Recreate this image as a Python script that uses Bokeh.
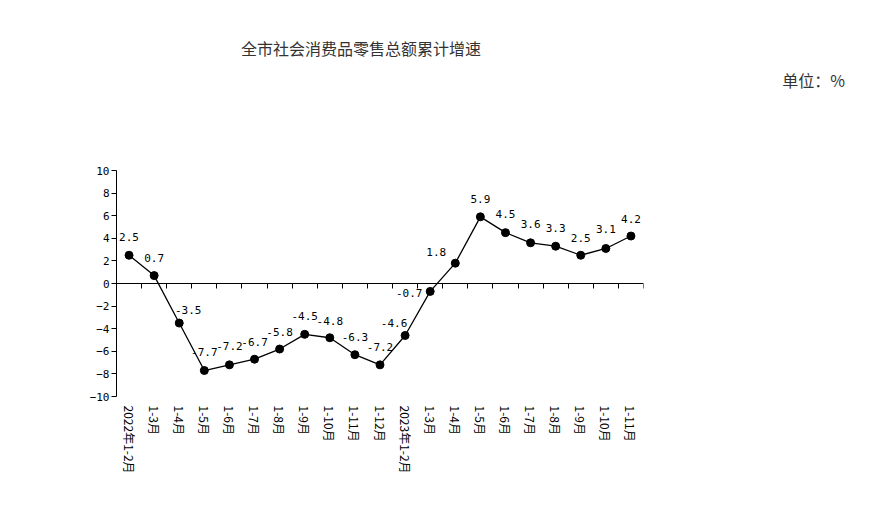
from bokeh.plotting import figure
from bokeh.models import ColumnDataSource, Range1d, FixedTicker, LinearAxis, Div
from bokeh.layouts import column
from bokeh.core.properties import value
from bokeh.embed import file_html
from bokeh.resources import INLINE

title_text = "全市社会消费品零售总额累计增速"
unit_text = "单位：%"
categories = ["2022年1-2月", "1-3月", "1-4月", "1-5月", "1-6月", "1-7月", "1-8月",
              "1-9月", "1-10月", "1-11月", "1-12月",
              "2023年1-2月", "1-3月", "1-4月", "1-5月", "1-6月", "1-7月", "1-8月",
              "1-9月", "1-10月", "1-11月"]
growth = [2.5, 0.7, -3.5, -7.7, -7.2, -6.7, -5.8, -4.5, -4.8, -6.3, -7.2,
          -4.6, -0.7, 1.8, 5.9, 4.5, 3.6, 3.3, 2.5, 3.1, 4.2]
y_ticks = [-10, -8, -6, -4, -2, 0, 2, 4, 6, 8, 10]

# label placement (style): pixel offsets of each value label from its point
lab_dx = [0, 0, 9, 0, 0, 0, 0, 0, 0, 0, 0, -11, -21, -19, 0, 0, 0, 0, 0, 0, 0]
lab_dy = [-18, -18, -13, -19, -19, -17, -17, -18, -17, -18, -18, -12, 2, -11,
          -18, -19, -19, -18, -17, -19, -17]

n = len(categories)
xs = list(range(n))
src = ColumnDataSource(dict(x=xs, y=growth, t=[f"{v:.1f}" for v in growth],
                            dx=lab_dx, dy=lab_dy))

HEAD = 100
p = figure(width=887, height=524 - HEAD, output_backend="svg", toolbar_location=None,
           x_range=Range1d(-0.5, n - 0.5), y_range=Range1d(y_ticks[0], y_ticks[-1]),
           min_border_left=116, min_border_right=244, min_border_top=170 - HEAD,
           min_border_bottom=128, margin=0)
p.outline_line_color = None
p.xgrid.visible = False
p.ygrid.visible = False
p.background_fill_color = "white"
p.border_fill_color = "white"

lab_font = "DejaVu Sans Mono"

# y axis
ya = p.yaxis[0]
ya.ticker = FixedTicker(ticks=y_ticks)
ya.minor_tick_line_color = None
ya.major_tick_in = 0
ya.major_tick_out = 5
ya.major_label_standoff = 2
ya.axis_line_color = "black"
ya.major_tick_line_color = "black"
ya.major_label_text_font = lab_font
ya.major_label_text_font_size = "11px"
ya.major_label_text_color = "black"

# category label axis at the bottom
xa = p.xaxis[0]
xa.ticker = FixedTicker(ticks=xs)
xa.major_label_overrides = {i: c for i, c in enumerate(categories)}
xa.major_label_orientation = "vertical"
xa.axis_line_color = None
xa.major_tick_line_color = None
xa.minor_tick_line_color = None
xa.major_tick_in = 0
xa.major_tick_out = 0
xa.major_label_standoff = 9
xa.major_label_text_font = "Noto Sans CJK SC"
xa.major_label_text_font_size = "12px"
xa.major_label_text_color = "black"

# zero line axis with ticks at category boundaries
za = LinearAxis(fixed_location=0,
                ticker=FixedTicker(ticks=[i - 0.5 for i in range(n + 1)]))
za.major_tick_in = 0
za.major_tick_out = 5
za.minor_tick_line_color = None
za.major_label_text_color = None
za.major_label_text_font_size = "1px"
za.major_label_standoff = 0
za.axis_line_color = "black"
za.major_tick_line_color = "black"
p.add_layout(za, "below")

p.line("x", "y", source=src, line_color="black", line_width=1.3)
p.scatter("x", "y", source=src, size=8, fill_color="black", line_color="black")
p.text("x", "y", text="t", source=src, x_offset="dx", y_offset="dy",
       text_align="center", text_baseline="middle",
       text_font=value(lab_font), text_font_size="11px", text_color="black")

head_html = (
    '<div style="position:relative;width:887px;height:%dpx;background:white;'
    'font-family:\'Noto Sans CJK SC\',sans-serif;color:#333;">'
    '<div style="position:absolute;left:0;top:37px;width:722px;text-align:center;'
    'font-size:16px;line-height:22px;">%s</div>'
    '<div style="position:absolute;right:42px;top:69px;text-align:right;'
    'font-size:16px;line-height:22px;">%s</div>'
    '</div>' % (HEAD, title_text, unit_text)
)
head = Div(text=head_html, width=887, height=HEAD, margin=0)

layout = column(head, p, spacing=0, margin=0)
open("out.html", "w").write(file_html(layout, INLINE))
